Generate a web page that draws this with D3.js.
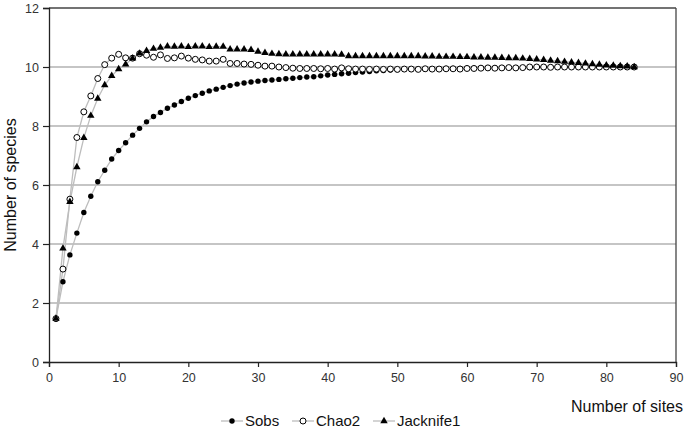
<!DOCTYPE html>
<html><head><meta charset="utf-8">
<script src="https://cdn.jsdelivr.net/npm/d3@7"></script>
<style>body{margin:0;background:#fff}svg{display:block}text{font-family:"Liberation Sans",Arial,sans-serif}</style>
</head><body>
<svg id="c" width="685" height="431"></svg>
<script>
const sobs = [1.47,2.72,3.63,4.37,5.07,5.62,6.11,6.5,6.88,7.17,7.43,7.69,7.92,8.14,8.32,8.46,8.6,8.71,8.83,8.94,
9.03,9.11,9.19,9.25,9.31,9.37,9.42,9.46,9.49,9.52,9.54,9.56,9.58,9.6,9.62,9.64,9.66,9.67,9.7,9.73,
9.75,9.77,9.79,9.81,9.83,9.85,9.87,9.88,9.9,9.91,9.92,9.92,9.93,9.93,9.94,9.94,9.95,9.95,9.95,9.96,
9.96,9.96,9.97,9.97,9.97,9.98,9.98,9.98,9.98,9.99,9.99,9.99,9.99,9.99,10.0,10.0,10.0,10.0,10.0,10.0,
10.0,10.0,10.0,10.0];
const chao2 = [1.47,3.15,5.52,7.61,8.48,9.02,9.61,10.08,10.3,10.43,10.31,10.3,10.45,10.4,10.33,10.41,10.29,10.31,10.37,10.3,
10.26,10.24,10.2,10.2,10.26,10.12,10.12,10.1,10.09,10.06,10.03,10.03,10.0,9.98,9.96,9.95,9.95,9.95,9.94,9.95,
9.93,9.97,9.94,9.93,9.93,9.92,9.93,9.92,9.93,9.92,9.93,9.93,9.92,9.94,9.93,9.93,9.94,9.94,9.93,9.95,
9.95,9.96,9.97,9.96,9.97,9.98,9.97,9.98,10.0,10.0,10.0,9.99,10.0,10.0,10.0,10.0,10.0,10.0,10.0,10.0,
10.0,10.0,10.0,10.0];
const jack1 = [1.47,3.85,5.43,6.61,7.6,8.35,8.93,9.39,9.7,9.93,10.09,10.29,10.46,10.55,10.62,10.66,10.7,10.69,10.7,10.68,
10.7,10.7,10.68,10.69,10.69,10.6,10.6,10.6,10.58,10.52,10.48,10.45,10.44,10.43,10.43,10.43,10.43,10.43,10.43,10.43,
10.43,10.42,10.37,10.37,10.37,10.37,10.37,10.37,10.37,10.37,10.37,10.37,10.37,10.36,10.36,10.35,10.35,10.35,10.34,10.34,
10.33,10.33,10.32,10.32,10.31,10.3,10.3,10.29,10.28,10.26,10.24,10.22,10.2,10.18,10.16,10.14,10.12,10.1,10.08,10.06,
10.05,10.03,10.02,10.0];
const sites = d3.range(1, sobs.length + 1);
const xTicks = [0,10,20,30,40,50,60,70,80,90];
const yTicks = [0,2,4,6,8,10,12];
const seriesNames = ["Sobs","Chao2","Jacknife1"];

const svg = d3.select("#c");
const L = 49, R = 676, T = 8, B = 362;
const x = d3.scaleLinear().domain([0,90]).range([L,R]);
const y = d3.scaleLinear().domain([0,12]).range([B,T]);

// gridlines
svg.append("g").selectAll("line").data(yTicks.filter(d=>d>0 && d<12)).join("line")
  .attr("x1",L).attr("x2",R).attr("y1",d=>y(d)).attr("y2",d=>y(d))
  .attr("stroke","#8c8c8c").attr("stroke-width",1.2);
// frame top/right
svg.append("line").attr("x1",L).attr("x2",R).attr("y1",T).attr("y2",T).attr("stroke","#444").attr("stroke-width",1.3);
svg.append("line").attr("x1",R).attr("x2",R).attr("y1",T).attr("y2",B).attr("stroke","#444").attr("stroke-width",1.3);

// axes
const xa = svg.append("g").attr("transform",`translate(0,${B})`)
  .call(d3.axisBottom(x).tickValues(xTicks).tickSize(5).tickPadding(6));
const ya = svg.append("g").attr("transform",`translate(${L},0)`)
  .call(d3.axisLeft(y).tickValues(yTicks).tickSize(6).tickPadding(4));
[xa,ya].forEach(a=>{
  a.select(".domain").attr("stroke","#222").attr("stroke-width",1.3);
  a.selectAll(".tick line").attr("stroke","#222").attr("stroke-width",1.2);
  a.selectAll(".tick text").attr("fill","#333").style("font-size","12.5px").style("font-family","'Liberation Sans',Arial,sans-serif");
});

// titles
svg.append("text").attr("x",683).attr("y",412).attr("text-anchor","end")
  .style("font-size","16px").attr("fill","#111").text("Number of sites");
svg.append("text").attr("transform",`translate(16,${(T+B)/2}) rotate(-90)`).attr("text-anchor","middle")
  .style("font-size","16px").attr("fill","#111").text("Number of species");

// lines
const line = d3.line().x((d,i)=>x(sites[i])).y(d=>y(d));
[sobs,chao2,jack1].forEach(s=>{
  svg.append("path").datum(s).attr("d",line).attr("fill","none").attr("stroke","#bdbdbd").attr("stroke-width",1.3);
});

const tri = d3.symbol().type(d3.symbolTriangle).size(24);
function drawMarker(g, kind, cx, cy){
  if(kind===0) g.append("circle").attr("cx",cx).attr("cy",cy).attr("r",2.7).attr("fill","#000");
  else if(kind===1) g.append("circle").attr("cx",cx).attr("cy",cy).attr("r",3).attr("fill","#fff").attr("stroke","#000").attr("stroke-width",1);
  else g.append("path").attr("d",tri()).attr("transform",`translate(${cx},${cy})`).attr("fill","#000");
}
const mg = svg.append("g");
sobs.forEach((v,i)=>drawMarker(mg,0,x(sites[i]),y(v)));
chao2.forEach((v,i)=>drawMarker(mg,1,x(sites[i]),y(v)));
jack1.forEach((v,i)=>drawMarker(mg,2,x(sites[i]),y(v)));

// legend
const legX = [221, 292, 373];
const lg = svg.append("g");
seriesNames.forEach((n,k)=>{
  const x0 = legX[k], yy = 421;
  lg.append("line").attr("x1",x0).attr("x2",x0+22).attr("y1",yy).attr("y2",yy).attr("stroke","#bdbdbd").attr("stroke-width",1.3);
  drawMarker(lg,k,x0+11,yy);
  lg.append("text").attr("x",x0+24).attr("y",yy+5).style("font-size","15px").attr("fill","#111").text(n);
});
</script>
</body></html>
